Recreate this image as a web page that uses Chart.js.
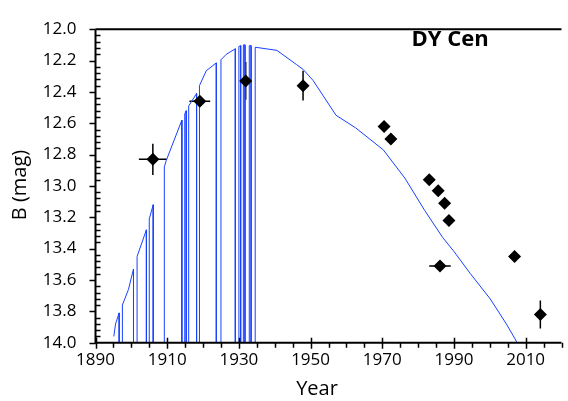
<!DOCTYPE html>
<html>
<head>
<meta charset="utf-8">
<script src="https://cdn.jsdelivr.net/npm/chart.js@4.4.1/dist/chart.umd.min.js"></script>
<style>
  html, body { margin: 0; padding: 0; background: #fff; }
  #grafico { display: block; }
</style>
</head>
<body>
<canvas id="grafico" width="568" height="401"></canvas>
<script>
// ============ Observaciones (diamantes con barras de error) ============
var obsYear    = [1906.0, 1919.1, 1931.9, 1947.9, 1970.5, 1972.4, 1983.1, 1985.6, 1987.4, 1988.6, 1986.1, 2006.9, 2014.1];
var obsMag     = [12.83, 12.46, 12.33, 12.36, 12.62, 12.70, 12.96, 13.03, 13.11, 13.22, 13.51, 13.45, 13.82];
var obsErrYear = [3.9, 2.9, 0, 0, 0, 0, 0, 0, 0, 0, 3.0, 0, 0];
var obsErrMag  = [0.10, 0.03, 0.12, 0.095, 0, 0, 0, 0, 0, 0, 0, 0, 0.09];

// ============ Curva modelo (15 = sin dato, cae fuera de escala) ============
var modelYear = [
  1895.1, 1895.6, 1896.6, 1896.6,
  1897.5, 1897.5, 1899.2, 1900.6, 1900.6,
  1901.6, 1901.6, 1904.2, 1904.2,
  1905.0, 1905.0, 1906.1, 1906.1,
  1909.2, 1909.2, 1909.7, 1914.1, 1914.1,
  1914.9, 1914.9, 1915.3, 1915.3,
  1916.0, 1916.0, 1918.2, 1918.2,
  1919.0, 1919.0, 1920.9, 1923.7, 1923.7,
  1925.0, 1925.0, 1926.5, 1929.0, 1929.0,
  1930.0, 1930.0, 1930.5, 1930.5,
  1931.25, 1931.25, 1931.7, 1931.7,
  1932.9, 1932.9, 1933.4, 1933.4,
  1934.55, 1934.55, 1940.6, 1946.1, 1947.9, 1950.7, 1957.1, 1962.6, 1970.3,
  1976.3, 1981.8, 1986.8, 1990.0, 1994.6, 2000.1, 2004.6, 2007.4, 2008.0
];
var modelMag = [
  13.96, 13.88, 13.81, 15,
  15, 13.76, 13.66, 13.53, 15,
  15, 13.45, 13.28, 15,
  15, 13.21, 13.12, 15,
  15, 12.88, 12.84, 12.58, 15,
  15, 12.54, 12.52, 15,
  15, 12.49, 12.41, 15,
  15, 12.36, 12.265, 12.215, 15,
  15, 12.195, 12.16, 12.125, 15,
  15, 12.11, 12.105, 15,
  15, 12.10, 12.10, 15,
  15, 12.105, 12.105, 15,
  15, 12.115, 12.135, 12.226, 12.256, 12.327, 12.549, 12.63, 12.77,
  12.95, 13.155, 13.327, 13.418, 13.56, 13.72, 13.88, 13.99, 14.03
];

// ============ Ejes ============
var xTicks = [1890, 1910, 1930, 1950, 1970, 1990, 2010];
var xMin = 1890, xMax = 2020, xStep = 20, xMinor = 5;
var yTicks = [12.0, 12.2, 12.4, 12.6, 12.8, 13.0, 13.2, 13.4, 13.6, 13.8, 14.0];
var yMin = 12.0, yMax = 14.0, yStep = 0.2, yMinor = 0.04;
var starName = "DY Cen";
var xTitle = "Year";
var yTitle = "B (mag)";

Chart.defaults.font.family = "'Open Sans', sans-serif";
Chart.defaults.color = "#000";

// ============ Marco, marcas de eje, barras de error y textos ============
var marcoPlugin = {
  id: "marco",
  beforeDatasetsDraw(chart) {
    const { ctx, scales: { x, y } } = chart;
    ctx.save();
    ctx.strokeStyle = "#000";
    ctx.lineWidth = 1.5;
    ctx.beginPath();
    for (let i = 0; i < obsYear.length; i++) {
      const px = x.getPixelForValue(obsYear[i]);
      const py = y.getPixelForValue(obsMag[i]);
      if (obsErrYear[i]) {
        ctx.moveTo(x.getPixelForValue(obsYear[i] - obsErrYear[i]), py);
        ctx.lineTo(x.getPixelForValue(obsYear[i] + obsErrYear[i]), py);
      }
      if (obsErrMag[i]) {
        ctx.moveTo(px, y.getPixelForValue(obsMag[i] - obsErrMag[i]));
        ctx.lineTo(px, y.getPixelForValue(obsMag[i] + obsErrMag[i]));
      }
    }
    ctx.stroke();
    ctx.restore();
  },
  afterDraw(chart) {
    const { ctx, chartArea: a, scales: { x, y } } = chart;
    ctx.save();
    ctx.strokeStyle = "#000";
    ctx.lineWidth = 2;
    ctx.beginPath();
    ctx.moveTo(a.left, a.top); ctx.lineTo(a.right, a.top);
    ctx.moveTo(a.left, a.top); ctx.lineTo(a.left, a.bottom);
    ctx.moveTo(a.left - 1, a.bottom); ctx.lineTo(a.right, a.bottom);
    ctx.stroke();

    ctx.lineWidth = 1.5;
    ctx.beginPath();
    // marcas eje X
    for (let v = xMin; v <= xMax; v += xMinor) {
      const px = Math.round(x.getPixelForValue(v)) + 0.5;
      if ((v - xMin) % xStep === 0) {
        ctx.moveTo(px, a.bottom - 5); ctx.lineTo(px, a.bottom + 6);
      } else {
        ctx.moveTo(px, a.bottom); ctx.lineTo(px, a.bottom + 5);
      }
    }
    // marcas eje Y
    const nMinor = Math.round((yMax - yMin) / yMinor);
    const perMajor = Math.round(yStep / yMinor);
    for (let k = 0; k <= nMinor; k++) {
      const py = Math.round(y.getPixelForValue(yMin + k * yMinor)) + 0.5;
      if (k % perMajor === 0) {
        ctx.moveTo(a.left - 6, py); ctx.lineTo(a.left, py);
      } else {
        ctx.moveTo(a.left, py); ctx.lineTo(a.left + 5, py);
      }
    }
    ctx.stroke();

    // textos
    ctx.fillStyle = "#000";
    ctx.textAlign = "center";
    ctx.textBaseline = "middle";
    ctx.font = "bold 22px 'Open Sans', sans-serif";
    ctx.fillText(starName, 450, 40);
    ctx.font = "20px 'Open Sans', sans-serif";
    ctx.fillText(xTitle, 317, 389);
    ctx.translate(20, 185);
    ctx.rotate(-Math.PI / 2);
    ctx.fillText(yTitle, 0, 0);
    ctx.restore();
  }
};

var modelo = modelYear.map((v, i) => ({ x: v, y: modelMag[i] }));
var observaciones = obsYear.map((v, i) => ({ x: v, y: obsMag[i] }));

new Chart(document.getElementById("grafico"), {
  type: "scatter",
  data: {
    datasets: [
      {
        label: "Observado",
        data: observaciones,
        pointStyle: "rectRot",
        pointRadius: 6.5,
        pointBackgroundColor: "#000",
        pointBorderWidth: 0,
        order: 1
      },
      {
        label: "Modelo",
        data: modelo,
        showLine: true,
        borderColor: "rgb(25, 65, 255)",
        borderWidth: 1,
        pointRadius: 0,
        tension: 0,
        order: 2
      }
    ]
  },
  options: {
    responsive: false,
    animation: false,
    layout: { padding: { left: 0, right: 0, top: 12.7, bottom: 0 } },
    scales: {
      x: {
        type: "linear",
        min: xMin,
        max: xMax,
        grid: { display: false, drawTicks: false },
        border: { display: false },
        ticks: {
          padding: 7,
          font: { size: 17 },
          maxRotation: 0,
          autoSkip: false,
          callback: v => String(v)
        },
        afterBuildTicks: s => { s.ticks = xTicks.map(v => ({ value: v })); },
        afterFit: s => { s.height = 58.3; }
      },
      y: {
        type: "linear",
        reverse: true,
        min: yMin,
        max: yMax,
        grid: { display: false, drawTicks: false },
        border: { display: false },
        ticks: {
          padding: 19,
          font: { size: 17 },
          autoSkip: false,
          callback: v => Number(v).toFixed(1)
        },
        afterBuildTicks: s => { s.ticks = yTicks.map(v => ({ value: v })); },
        afterFit: s => { s.width = 95.5; }
      }
    },
    plugins: {
      legend: { display: false },
      tooltip: { enabled: false }
    }
  },
  plugins: [marcoPlugin]
});
</script>
</body>
</html>
